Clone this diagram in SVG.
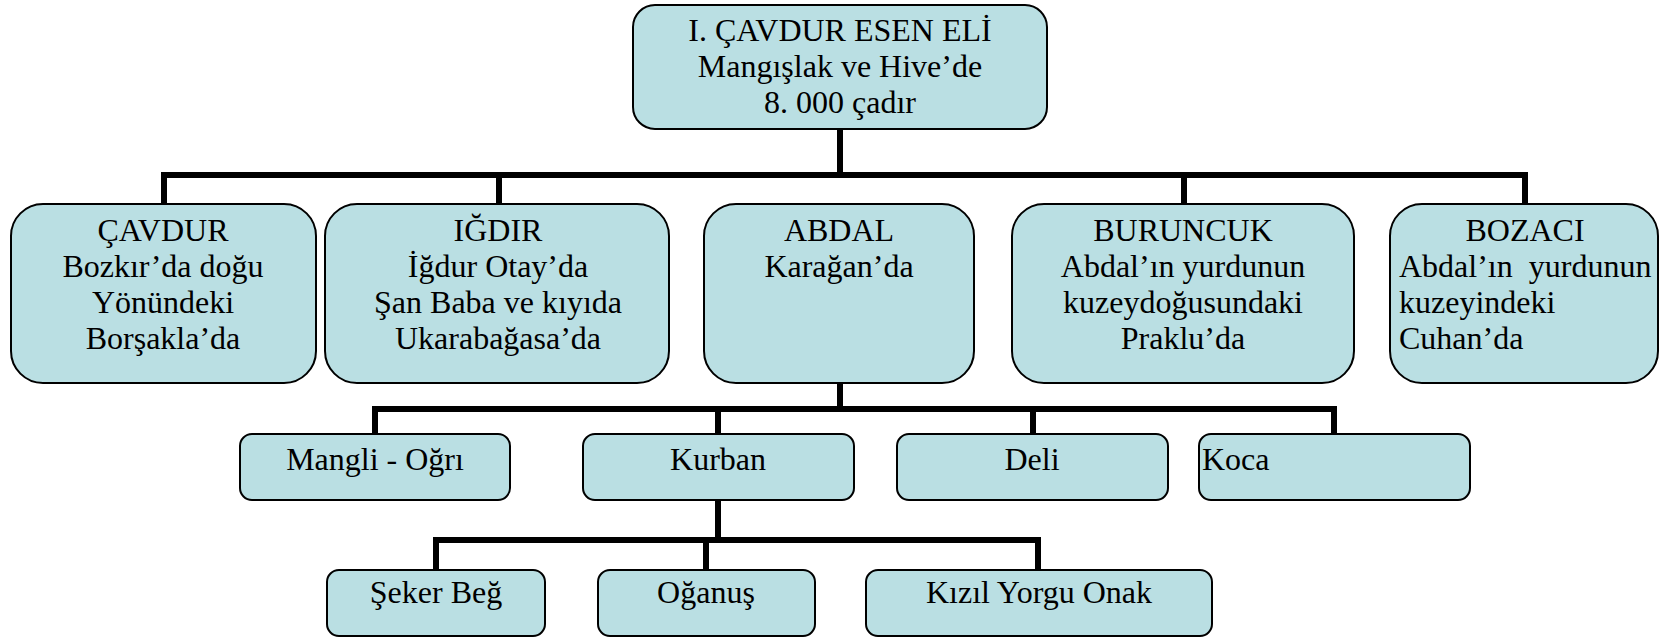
<svg xmlns="http://www.w3.org/2000/svg" width="1661" height="638" viewBox="0 0 1661 638">
<style>
.box{fill:#BADFE3;stroke:#000;stroke-width:2}
text{font-family:"Liberation Serif","Times New Roman",serif;font-size:32px;fill:#000;text-anchor:middle;white-space:pre}
text.l{text-anchor:start}
.c{fill:none;stroke:#000;stroke-width:6;stroke-linecap:butt;stroke-linejoin:miter}
</style>
<rect width="1661" height="638" fill="#fff"/>
<g id="connectors">
<path class="c" d="M840 129V175M164 204V175H1525V204M499 175V204M1184 175V204"/>
<path class="c" d="M840 383V409M375 434V409H1334V434M718 409V434M1033 409V434"/>
<path class="c" d="M718 500V540M436 570V540H1038V570M706 540V570"/>
</g>
<g id="n-root">
<rect class="box" x="633" y="5" width="414" height="124" rx="22"/>
<text x="840" y="41">I. ÇAVDUR ESEN ELİ</text>
<text x="840" y="77">Mangışlak ve Hive’de</text>
<text x="840" y="113">8. 000 çadır</text>
</g>
<g id="n-cavdur">
<rect class="box" x="11" y="204" width="305" height="179" rx="32"/>
<text x="163" y="241">ÇAVDUR</text>
<text x="163" y="277">Bozkır’da doğu</text>
<text x="163" y="313">Yönündeki</text>
<text x="163" y="349">Borşakla’da</text>
</g>
<g id="n-igdir">
<rect class="box" x="325" y="204" width="344" height="179" rx="32"/>
<text x="498" y="241">IĞDIR</text>
<text x="498" y="277">İğdur Otay’da</text>
<text x="498" y="313">Şan Baba ve kıyıda</text>
<text x="498" y="349">Ukarabağasa’da</text>
</g>
<g id="n-abdal">
<rect class="box" x="704" y="204" width="270" height="179" rx="32"/>
<text x="839" y="241">ABDAL</text>
<text x="839" y="277">Karağan’da</text>
</g>
<g id="n-buruncuk">
<rect class="box" x="1012" y="204" width="342" height="179" rx="32"/>
<text x="1183" y="241">BURUNCUK</text>
<text x="1183" y="277">Abdal’ın yurdunun</text>
<text x="1183" y="313">kuzeydoğusundaki</text>
<text x="1183" y="349">Praklu’da</text>
</g>
<g id="n-bozaci">
<rect class="box" x="1390" y="204" width="268" height="179" rx="32"/>
<text x="1525" y="241">BOZACI</text>
<text class="l" x="1399" y="277">Abdal’ın  yurdunun</text>
<text class="l" x="1399" y="313">kuzeyindeki</text>
<text class="l" x="1399" y="349">Cuhan’da</text>
</g>
<g id="n-mangli">
<rect class="box" x="240" y="434" width="270" height="66" rx="12"/>
<text x="375" y="470">Mangli - Oğrı</text>
</g>
<g id="n-kurban">
<rect class="box" x="583" y="434" width="271" height="66" rx="12"/>
<text x="718" y="470">Kurban</text>
</g>
<g id="n-deli">
<rect class="box" x="897" y="434" width="271" height="66" rx="12"/>
<text x="1032" y="470">Deli</text>
</g>
<g id="n-koca">
<rect class="box" x="1199" y="434" width="271" height="66" rx="12"/>
<text class="l" x="1202" y="470">Koca</text>
</g>
<g id="n-seker">
<rect class="box" x="327" y="570" width="218" height="66" rx="12"/>
<text x="436" y="603">Şeker Beğ</text>
</g>
<g id="n-oganus">
<rect class="box" x="598" y="570" width="217" height="66" rx="12"/>
<text x="706" y="603">Oğanuş</text>
</g>
<g id="n-kizil">
<rect class="box" x="866" y="570" width="346" height="66" rx="12"/>
<text x="1039" y="603">Kızıl Yorgu Onak</text>
</g>
</svg>
